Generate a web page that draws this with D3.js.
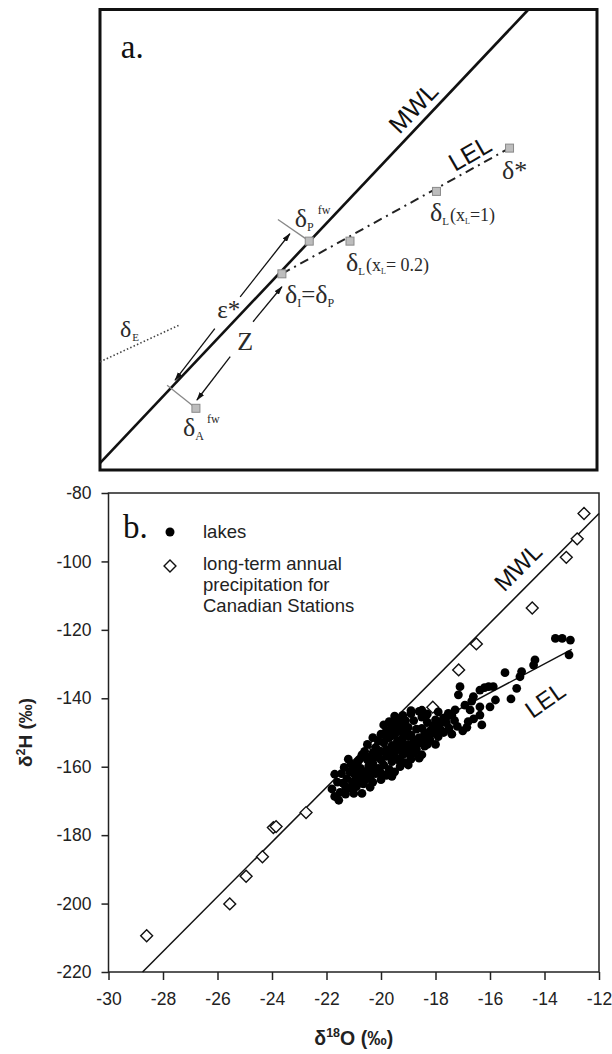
<!DOCTYPE html>
<html>
<head>
<meta charset="utf-8">
<script src="https://cdn.jsdelivr.net/npm/d3@7"></script>
<style>
  body { margin: 0; background: #fff; }
  svg { display: block; }
</style>
</head>
<body>
<svg id="svg" width="612" height="1054"></svg>
<script>
// ---------------- panel a : schematic (arbitrary 0..100 units)
const aMWL = [[0, 1.5], [86.2, 100]]
const aLEL = [[36.6, 42.6], [82.4, 69.9]]
const aEvap = [[0, 23.5], [15.8, 31.4]]
const aSquares = [[42.1, 49.7], [36.6, 42.6], [50.3, 49.7], [67.7, 60.5], [82.4, 69.9], [19.3, 13.4]]
const aGreyTicks = [[[35.8, 54.4], [42.1, 49.7]], [[13.5, 18.4], [19.3, 13.4]]]
const aArrows = [
  [[28.2, 37.6], [38.2, 51.3]],
  [[23.1, 30.7], [15.1, 19.5]],
  [[30.8, 32.2], [36.6, 39.8]],
  [[26.2, 24.6], [19.5, 15.2]]
]
// label parts: [text, size, baseline offset, dx]
const aLabels = [
  { at: [23.6, 33.0], parts: [['ε*', 25, 0, 0]] },
  { at: [27.6, 26.0], parts: [['Z', 26, 0, 0]] },
  { at: [4.0, 28.9], parts: [['δ', 24, 0, 0], ['E', 11, 4, 1]] },
  { at: [39.2, 52.7], parts: [['δ', 26, 0, 0], ['P', 12, 4, 0], ['fw', 12, -13, 4]] },
  { at: [37.2, 36.2], parts: [['δ', 26, 0, 0], ['I', 12, 4, 0], ['=', 25, 0, 0], ['δ', 26, 0, 0], ['P', 12, 4, 0]] },
  { at: [49.5, 43.2], parts: [['δ', 26, 0, 0], ['L', 11, 4, 0], ['(x', 18, 0, 1], ['L', 8, 3, 0], ['= 0.2)', 18, 0, 0]] },
  { at: [66.4, 54.0], parts: [['δ', 26, 0, 0], ['L', 11, 4, 0], ['(x', 18, 0, 1], ['L', 8, 3, 0], ['=1)', 18, 0, 0]] },
  { at: [80.9, 63.3], parts: [['δ*', 26, 0, 0]] },
  { at: [16.7, 7.4], parts: [['δ', 26, 0, 0], ['A', 12, 4, 0], ['fw', 12, -13, 3]] }
]

// ---------------- panel b : data
const xTicks = [-30, -28, -26, -24, -22, -20, -18, -16, -14, -12]
const yTicks = [-220, -200, -180, -160, -140, -120, -100, -80]
const mwlLine = [[-28.75, -220], [-12, -86]]
const lelLine = [[-21.5, -161.7], [-13.0, -125.7]]
const stations = [
  [-12.55, -86.0], [-12.8, -93.4], [-13.2, -98.8], [-14.45, -113.6], [-16.5, -124.1],
  [-17.15, -131.7], [-18.1, -142.6], [-19.85, -151.1], [-20.2, -154.7], [-20.5, -155.8],
  [-22.75, -173.4], [-23.95, -177.8], [-23.85, -177.5], [-24.35, -186.3], [-24.95, -192.0],
  [-25.55, -200.1], [-28.6, -209.4]
]
const lakes = [
  [-13.6, -122.5], [-13.35, -122.5], [-13.05, -123.0], [-13.1, -127.3],
  [-14.35, -128.8], [-14.4, -130.3], [-14.84, -132.2], [-14.9, -133.7], [-15.45, -132.5],
  [-15.02, -137.1], [-15.23, -140.2], [-15.88, -136.6], [-16.05, -136.6], [-16.2, -136.9],
  [-16.37, -137.6], [-16.61, -139.5], [-16.67, -140.8], [-16.37, -142.5], [-16.73, -143.4],
  [-16.37, -144.9], [-16.3, -147.8], [-16.8, -146.8], [-16.85, -148.5], [-17.1, -136.6],
  [-17.16, -139.0], [-16.92, -142.0], [-17.28, -143.4], [-17.53, -144.4], [-17.71, -145.8],
  [-17.6, -147.2], [-17.8, -147.0], [-17.9, -148.5], [-18.0, -146.3], [-18.1, -148.0],
  [-18.2, -149.5], [-18.3, -147.0], [-18.4, -150.5], [-18.5, -145.5], [-18.5, -148.8],
  [-18.6, -151.5], [-18.7, -149.0], [-18.8, -152.5], [-18.8, -146.5], [-18.9, -150.8],
  [-19.0, -153.5], [-19.0, -148.5], [-17.7, -150.0], [-17.9, -151.2], [-18.2, -152.2],
  [-18.0, -153.5], [-18.4, -154.0], [-17.5, -148.7], [-17.3, -146.5], [-17.2, -148.2],
  [-18.6, -143.8], [-18.3, -144.6], [-18.7, -155.0], [-19.0, -156.2], [-18.5, -156.5],
  [-19.1, -146.5], [-19.2, -148.0], [-19.3, -147.0], [-19.4, -146.3], [-19.5, -147.5],
  [-19.6, -148.5], [-19.1, -150.0], [-19.2, -151.5], [-19.3, -149.5], [-19.4, -152.5],
  [-19.5, -150.8], [-19.6, -153.8], [-19.7, -151.5], [-19.8, -149.5], [-19.1, -154.8],
  [-19.2, -156.5], [-19.3, -155.0], [-19.4, -157.8], [-19.5, -156.0], [-19.6, -158.5],
  [-19.7, -155.2], [-19.8, -157.0], [-19.9, -153.0], [-20.0, -155.5], [-20.1, -152.5],
  [-19.9, -159.5], [-20.0, -158.0], [-20.1, -160.5], [-20.2, -157.2], [-20.3, -159.0],
  [-20.4, -161.5], [-20.2, -154.5], [-19.3, -160.0], [-19.5, -161.5], [-19.1, -158.8],
  [-18.9, -157.8], [-20.3, -156.0], [-20.5, -158.0], [-20.4, -163.0], [-19.7, -160.8],
  [-19.0, -151.0], [-19.9, -147.8], [-19.7, -146.8], [-18.9, -144.5],
  [-21.8, -166.5], [-21.7, -168.7], [-21.55, -169.8], [-21.5, -167.5], [-21.45, -162.0],
  [-21.4, -164.8], [-21.35, -160.2], [-21.3, -168.0], [-21.25, -163.5], [-21.2, -166.3],
  [-21.15, -161.5], [-21.1, -159.2], [-21.05, -164.5], [-21.0, -167.8], [-20.95, -162.5],
  [-20.9, -165.8], [-20.85, -158.5], [-20.8, -163.3], [-20.75, -160.5], [-20.7, -167.8],
  [-20.65, -165.0], [-20.6, -161.5], [-20.55, -157.0], [-20.5, -163.5], [-20.45, -159.8],
  [-20.4, -166.0], [-20.3, -161.0], [-20.6, -155.5], [-20.9, -160.8], [-21.2, -157.8],
  [-20.0, -150.5], [-19.8, -151.8], [-19.6, -150.0], [-19.4, -149.0], [-19.2, -153.2],
  [-19.0, -155.0], [-18.8, -154.0], [-18.6, -153.0], [-18.4, -152.0], [-18.2, -150.8],
  [-18.0, -150.0], [-17.8, -149.2], [-17.6, -145.5], [-17.4, -145.0], [-18.9, -143.6],
  [-18.5, -143.5], [-19.2, -145.0], [-19.5, -145.2], [-20.3, -151.5], [-20.5, -153.5],
  [-20.7, -156.5], [-20.8, -158.0], [-21.0, -160.0], [-20.2, -162.0], [-20.0, -161.8],
  [-19.8, -162.5], [-20.7, -162.5], [-20.9, -164.0], [-21.1, -166.0], [-21.3, -165.8],
  [-21.6, -164.5], [-21.7, -162.2], [-20.6, -164.0], [-20.3, -164.5], [-19.6, -162.8],
  [-20.0, -163.8], [-19.3, -158.5], [-19.0, -159.5], [-18.8, -156.0], [-18.6, -157.5],
  [-19.8, -155.0], [-19.6, -157.0], [-20.1, -156.8], [-20.4, -157.5], [-19.4, -154.0],
  [-18.3, -153.5], [-17.9, -144.0], [-17.4, -150.5], [-17.0, -149.5], [-16.6, -146.0],
  [-16.0, -142.5], [-15.8, -140.5]
]

const svg = d3.select('#svg')
const serif = '"Liberation Serif", "Times New Roman", serif'
const sans = '"Liberation Sans", Arial, sans-serif'

svg.append('defs').append('marker')
  .attr('id', 'arrow')
  .attr('viewBox', '0 0 10 6')
  .attr('refX', 9).attr('refY', 3)
  .attr('markerWidth', 9).attr('markerHeight', 5.5)
  .attr('markerUnits', 'userSpaceOnUse')
  .attr('orient', 'auto')
  .append('path').attr('d', 'M0,0 L10,3 L0,6 Z').attr('fill', '#111')

// ---------- panel a
const ax = d3.scaleLinear().domain([0, 100]).range([100, 597])
const ay = d3.scaleLinear().domain([0, 100]).range([470, 9.5])
const lineA = d3.line().x(d => ax(d[0])).y(d => ay(d[1]))
const ga = svg.append('g')

ga.append('rect')
  .attr('x', ax(0)).attr('y', ay(100))
  .attr('width', ax(100) - ax(0)).attr('height', ay(0) - ay(100))
  .attr('fill', 'none').attr('stroke', '#111').attr('stroke-width', 3)

ga.append('path').attr('d', lineA(aEvap))
  .attr('fill', 'none').attr('stroke', '#444').attr('stroke-width', 1.6)
  .attr('stroke-dasharray', '1.5,2.2')

ga.append('path').attr('d', lineA(aMWL))
  .attr('fill', 'none').attr('stroke', '#111').attr('stroke-width', 2.6)

ga.append('path').attr('d', lineA(aLEL))
  .attr('fill', 'none').attr('stroke', '#222').attr('stroke-width', 2)
  .attr('stroke-dasharray', '9,5,2,5')

ga.selectAll('.gt').data(aGreyTicks).enter().append('path')
  .attr('d', d => lineA(d))
  .attr('stroke', '#888').attr('stroke-width', 1.3)

ga.selectAll('.arr').data(aArrows).enter().append('path')
  .attr('d', d => lineA(d))
  .attr('stroke', '#111').attr('stroke-width', 1.3)
  .attr('marker-end', 'url(#arrow)')

ga.selectAll('.sq').data(aSquares).enter().append('rect')
  .attr('x', d => ax(d[0]) - 4).attr('y', d => ay(d[1]) - 4)
  .attr('width', 8).attr('height', 8)
  .attr('fill', '#bdbdbd').attr('stroke', '#8a8a8a').attr('stroke-width', 1)

ga.append('text').attr('x', ax(4.2)).attr('y', ay(89.4))
  .attr('font-family', serif).attr('font-size', 33).attr('fill', '#111')
  .text('a.')

ga.append('text')
  .attr('transform', `translate(${ax(63.0)},${ay(78.7)}) rotate(-46.5)`)
  .attr('text-anchor', 'middle').attr('dominant-baseline', 'central')
  .attr('font-family', sans).attr('font-size', 25).attr('fill', '#111')
  .text('MWL')

ga.append('text')
  .attr('transform', `translate(${ax(74.4)},${ay(68.8)}) rotate(-30)`)
  .attr('text-anchor', 'middle').attr('dominant-baseline', 'central')
  .attr('font-family', sans).attr('font-size', 25).attr('fill', '#111')
  .text('LEL')

aLabels.forEach(function (lab) {
  const t = ga.append('text')
    .attr('x', ax(lab.at[0])).attr('y', ay(lab.at[1]))
    .attr('font-family', serif).attr('fill', '#2a2a2a')
  let prev = 0
  lab.parts.forEach(function (p) {
    t.append('tspan')
      .attr('font-size', p[1])
      .attr('dy', p[2] - prev)
      .attr('dx', p[3])
      .text(p[0])
    prev = p[2]
  })
})

// ---------- panel b
const x = d3.scaleLinear().domain([-30, -12]).range([108.5, 599])
const y = d3.scaleLinear().domain([-220, -80]).range([972, 493])
const lineB = d3.line().x(d => x(d[0])).y(d => y(d[1]))
const gb = svg.append('g')

const xAxis = gb.append('g')
  .attr('transform', 'translate(0,' + y(-220) + ')')
  .call(d3.axisBottom(x).tickValues(xTicks).tickFormat(d => String(d))
    .tickSize(8).tickPadding(13).tickSizeOuter(0))
const yAxis = gb.append('g')
  .attr('transform', 'translate(' + x(-30) + ',0)')
  .call(d3.axisLeft(y).tickValues(yTicks).tickFormat(d => String(d))
    .tickSize(7).tickPadding(10).tickSizeOuter(0))

;[xAxis, yAxis].forEach(function (a) {
  a.select('.domain').remove()
  a.selectAll('line').attr('stroke', '#222').attr('stroke-width', 1.5)
  a.selectAll('text').attr('font-family', sans).attr('font-size', 17.5).attr('fill', '#222')
})

gb.append('rect')
  .attr('x', x(-30)).attr('y', y(-80))
  .attr('width', x(-12) - x(-30)).attr('height', y(-220) - y(-80))
  .attr('fill', 'none').attr('stroke', '#222').attr('stroke-width', 1.5)

gb.append('path').attr('d', lineB(mwlLine))
  .attr('fill', 'none').attr('stroke', '#111').attr('stroke-width', 1.5)
gb.append('path').attr('d', lineB(lelLine))
  .attr('fill', 'none').attr('stroke', '#111').attr('stroke-width', 1.5)

const diamond = d3.symbol().type(d3.symbolDiamond2).size(90)
gb.selectAll('.st').data(stations).enter().append('path')
  .attr('d', diamond)
  .attr('transform', d => 'translate(' + x(d[0]) + ',' + y(d[1]) + ')')
  .attr('fill', '#fff').attr('stroke', '#111').attr('stroke-width', 1.4)

gb.selectAll('.lk').data(lakes).enter().append('circle')
  .attr('cx', d => x(d[0])).attr('cy', d => y(d[1]))
  .attr('r', 4.4).attr('fill', '#000')

gb.append('text')
  .attr('transform', 'translate(518,567) rotate(-45)')
  .attr('text-anchor', 'middle').attr('dominant-baseline', 'central')
  .attr('font-family', sans).attr('font-size', 24).attr('fill', '#111')
  .text('MWL')
gb.append('text')
  .attr('transform', 'translate(545,700) rotate(-35)')
  .attr('text-anchor', 'middle').attr('dominant-baseline', 'central')
  .attr('font-family', sans).attr('font-size', 24).attr('fill', '#111')
  .text('LEL')

// legend
gb.append('text').attr('x', 123).attr('y', 538)
  .attr('font-family', serif).attr('font-size', 33).attr('fill', '#111').text('b.')
gb.append('circle').attr('cx', 170).attr('cy', 532).attr('r', 4.5).attr('fill', '#000')
gb.append('path').attr('d', diamond).attr('transform', 'translate(170,566)')
  .attr('fill', '#fff').attr('stroke', '#111').attr('stroke-width', 1.4)
const legendLines = [['lakes', 538], ['long-term annual', 570], ['precipitation for', 591], ['Canadian Stations', 612]]
gb.selectAll('.lg').data(legendLines).enter().append('text')
  .attr('x', 203).attr('y', d => d[1])
  .attr('font-family', sans).attr('font-size', 18.5).attr('fill', '#222')
  .text(d => d[0])

// axis titles
const yt = gb.append('text')
  .attr('transform', 'translate(32,' + ((y(-80) + y(-220)) / 2) + ') rotate(-90)')
  .attr('text-anchor', 'middle')
  .attr('font-family', sans).attr('font-size', 19).attr('font-weight', 'bold').attr('fill', '#222')
yt.append('tspan').text('δ')
yt.append('tspan').attr('font-size', 12.5).attr('dy', -7).text('2')
yt.append('tspan').attr('dy', 7).text('H (‰)')

const xt = gb.append('text')
  .attr('x', (x(-30) + x(-12)) / 2).attr('y', 1045)
  .attr('text-anchor', 'middle')
  .attr('font-family', sans).attr('font-size', 19.5).attr('font-weight', 'bold').attr('fill', '#222')
xt.append('tspan').text('δ')
xt.append('tspan').attr('font-size', 12.5).attr('dy', -8).text('18')
xt.append('tspan').attr('dy', 8).text('O (‰)')
</script>
</body>
</html>
